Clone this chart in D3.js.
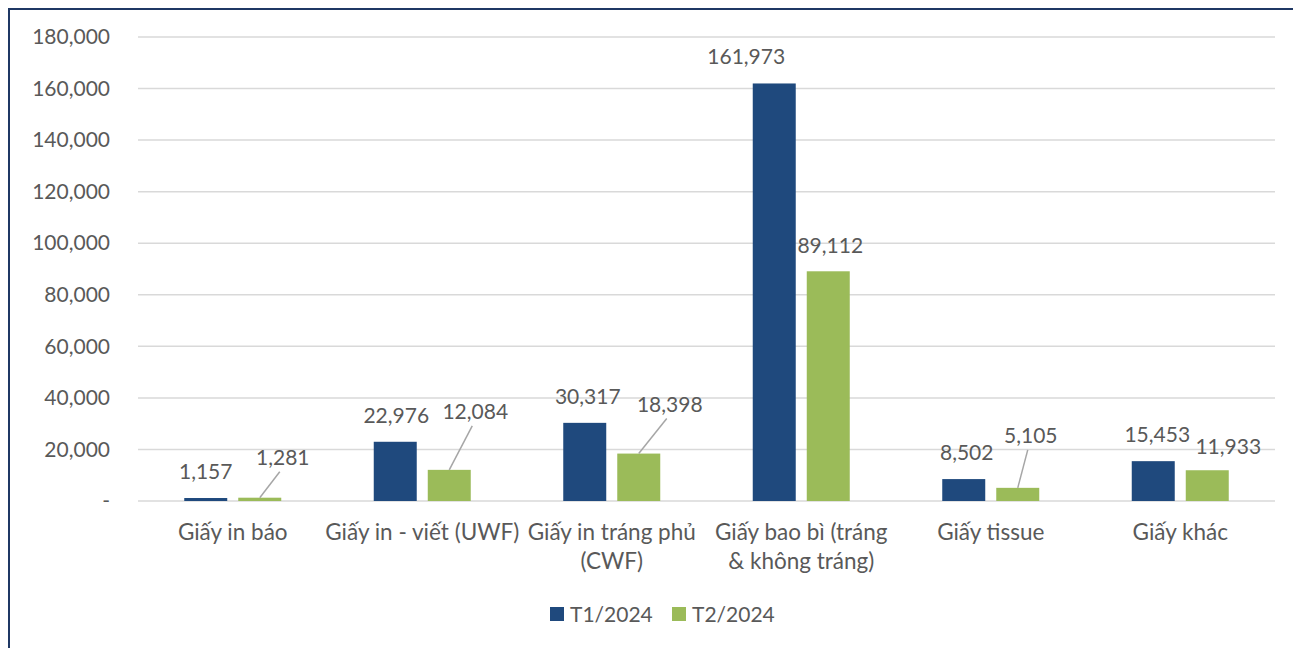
<!DOCTYPE html>
<html>
<head>
<meta charset="utf-8">
<script src="https://cdn.jsdelivr.net/npm/d3@7"></script>
<style>
  body { margin: 0; background: #fff; }
  text { font-family: Lato, "Noto Sans", sans-serif; fill: #595959; }
</style>
</head>
<body>
<div id="chart"></div>
<script>
var svgWidth = 1293;
var svgHeight = 648;

// data
var categories = ["Giấy in báo", "Giấy in - viết (UWF)", "Giấy in tráng phủ (CWF)",
  "Giấy bao bì (tráng & không tráng)", "Giấy tissue", "Giấy khác"];
var categoryLines = [["Giấy in báo"], ["Giấy in - viết (UWF)"], ["Giấy in tráng phủ", "(CWF)"],
  ["Giấy bao bì (tráng", "& không tráng)"], ["Giấy tissue"], ["Giấy khác"]];
var seriesNames = ["T1/2024", "T2/2024"];
var t1Values = [1157, 22976, 30317, 161973, 8502, 15453];
var t2Values = [1281, 12084, 18398, 89112, 5105, 11933];
var yTicks = [0, 20000, 40000, 60000, 80000, 100000, 120000, 140000, 160000, 180000];

var colors = ["#1F497D", "#9BBB59"];

// label nudges (dx, dy from bar top, leader line or not)
var t1LabelShift = [0, 1, 3, -28, 3, 4];
var t2LabelShift = [
  { dx: 23, dy: -40, leader: true },
  { dx: 26, dy: -58, leader: true },
  { dx: 31, dy: -49, leader: true },
  { dx: 2, dy: -25, leader: false },
  { dx: 13, dy: -52, leader: true },
  { dx: 21, dy: -23, leader: false }
];

var margin = { top: 37, right: 18, bottom: 147, left: 138 };
var width = svgWidth - margin.left - margin.right;
var height = svgHeight - margin.top - margin.bottom;

var svg = d3.select("#chart")
  .append("svg")
  .attr("width", svgWidth)
  .attr("height", svgHeight);

// frame (left and top edges only are visible)
svg.append("path")
  .attr("d", "M9," + svgHeight + " L9,9 L" + svgWidth + ",9")
  .attr("fill", "none")
  .attr("stroke", "#1F3864")
  .attr("stroke-width", 2);

var chartGroup = svg.append("g")
  .attr("transform", `translate(${margin.left}, ${margin.top})`);

var x0 = d3.scaleBand()
  .domain(categories)
  .range([0, width])
  .padding(0);

var bw = x0.bandwidth();
var x1 = d3.scaleBand()
  .domain(seriesNames)
  .range([bw / 2 - 48.5, bw / 2 + 48.5])
  .paddingInner(0.204);

var y = d3.scaleLinear()
  .domain([0, 180000])
  .range([height, 0]);

// gridlines
chartGroup.append("g")
  .selectAll("line")
  .data(yTicks)
  .enter()
  .append("line")
  .attr("x1", 0)
  .attr("x2", width)
  .attr("y1", d => y(d))
  .attr("y2", d => y(d))
  .attr("stroke", "#D9D9D9")
  .attr("stroke-width", 1.5);

// y axis labels
var leftAxis = d3.axisLeft(y)
  .tickValues(yTicks)
  .tickSize(0)
  .tickPadding(28)
  .tickFormat(d => d === 0 ? "-" : d3.format(",")(d));

var yAxis = chartGroup.append("g").call(leftAxis);
yAxis.select(".domain").remove();
yAxis.selectAll("text")
  .attr("font-size", 21)
  .style("font-family", "Lato, 'Noto Sans', sans-serif")
  .attr("fill", "#595959");

// category labels
var catLabels = chartGroup.append("g")
  .selectAll("text")
  .data(categories)
  .enter()
  .append("text")
  .attr("x", d => x0(d) + bw / 2)
  .attr("y", height + 39)
  .attr("text-anchor", "middle")
  .attr("font-size", 22.5);

catLabels.each(function(d, i) {
  var t = d3.select(this);
  categoryLines[i].forEach(function(line, j) {
    t.append("tspan")
      .attr("x", x0(d) + bw / 2)
      .attr("dy", j === 0 ? 0 : 29)
      .text(line);
  });
});

var allSeries = [t1Values, t2Values];

allSeries.forEach(function(vals, s) {
  var g = chartGroup.append("g");
  var rows = categories.map((c, i) => ({ cat: c, value: vals[i], i: i }));

  g.selectAll("rect")
    .data(rows)
    .enter()
    .append("rect")
    .attr("x", d => x0(d.cat) + x1(seriesNames[s]))
    .attr("y", d => y(d.value))
    .attr("width", x1.bandwidth())
    .attr("height", d => height - y(d.value))
    .attr("fill", colors[s]);

  if (s === 0) {
    g.selectAll("text")
      .data(rows)
      .enter()
      .append("text")
      .attr("x", d => x0(d.cat) + x1(seriesNames[s]) + x1.bandwidth() / 2 + t1LabelShift[d.i])
      .attr("y", d => y(d.value) - 19)
      .attr("text-anchor", "middle")
      .attr("font-size", 21)
      .text(d => d3.format(",")(d.value));
  } else {
    // leader lines
    g.selectAll("line")
      .data(rows.filter(d => t2LabelShift[d.i].leader))
      .enter()
      .append("line")
      .attr("x1", d => x0(d.cat) + x1(seriesNames[s]) + x1.bandwidth() / 2)
      .attr("y1", d => y(d.value))
      .attr("x2", d => x0(d.cat) + x1(seriesNames[s]) + x1.bandwidth() / 2 + t2LabelShift[d.i].dx - 3)
      .attr("y2", d => y(d.value) + t2LabelShift[d.i].dy + 14)
      .attr("stroke", "#A6A6A6")
      .attr("stroke-width", 1.5);

    g.selectAll("text")
      .data(rows)
      .enter()
      .append("text")
      .attr("x", d => x0(d.cat) + x1(seriesNames[s]) + x1.bandwidth() / 2 + t2LabelShift[d.i].dx)
      .attr("y", d => y(d.value) + t2LabelShift[d.i].dy + 7)
      .attr("text-anchor", "middle")
      .attr("font-size", 21)
      .text(d => d3.format(",")(d.value));
  }
});

// legend
var legend = svg.append("g")
  .attr("transform", "translate(550, 607)");

var legendItems = legend.selectAll("g")
  .data(seriesNames)
  .enter()
  .append("g")
  .attr("transform", (d, i) => `translate(${i * 122}, 0)`);

legendItems.append("rect")
  .attr("width", 14)
  .attr("height", 14)
  .attr("fill", (d, i) => colors[i]);

legendItems.append("text")
  .attr("x", 20)
  .attr("y", 15)
  .attr("font-size", 21)
  .text(d => d);
</script>
</body>
</html>
